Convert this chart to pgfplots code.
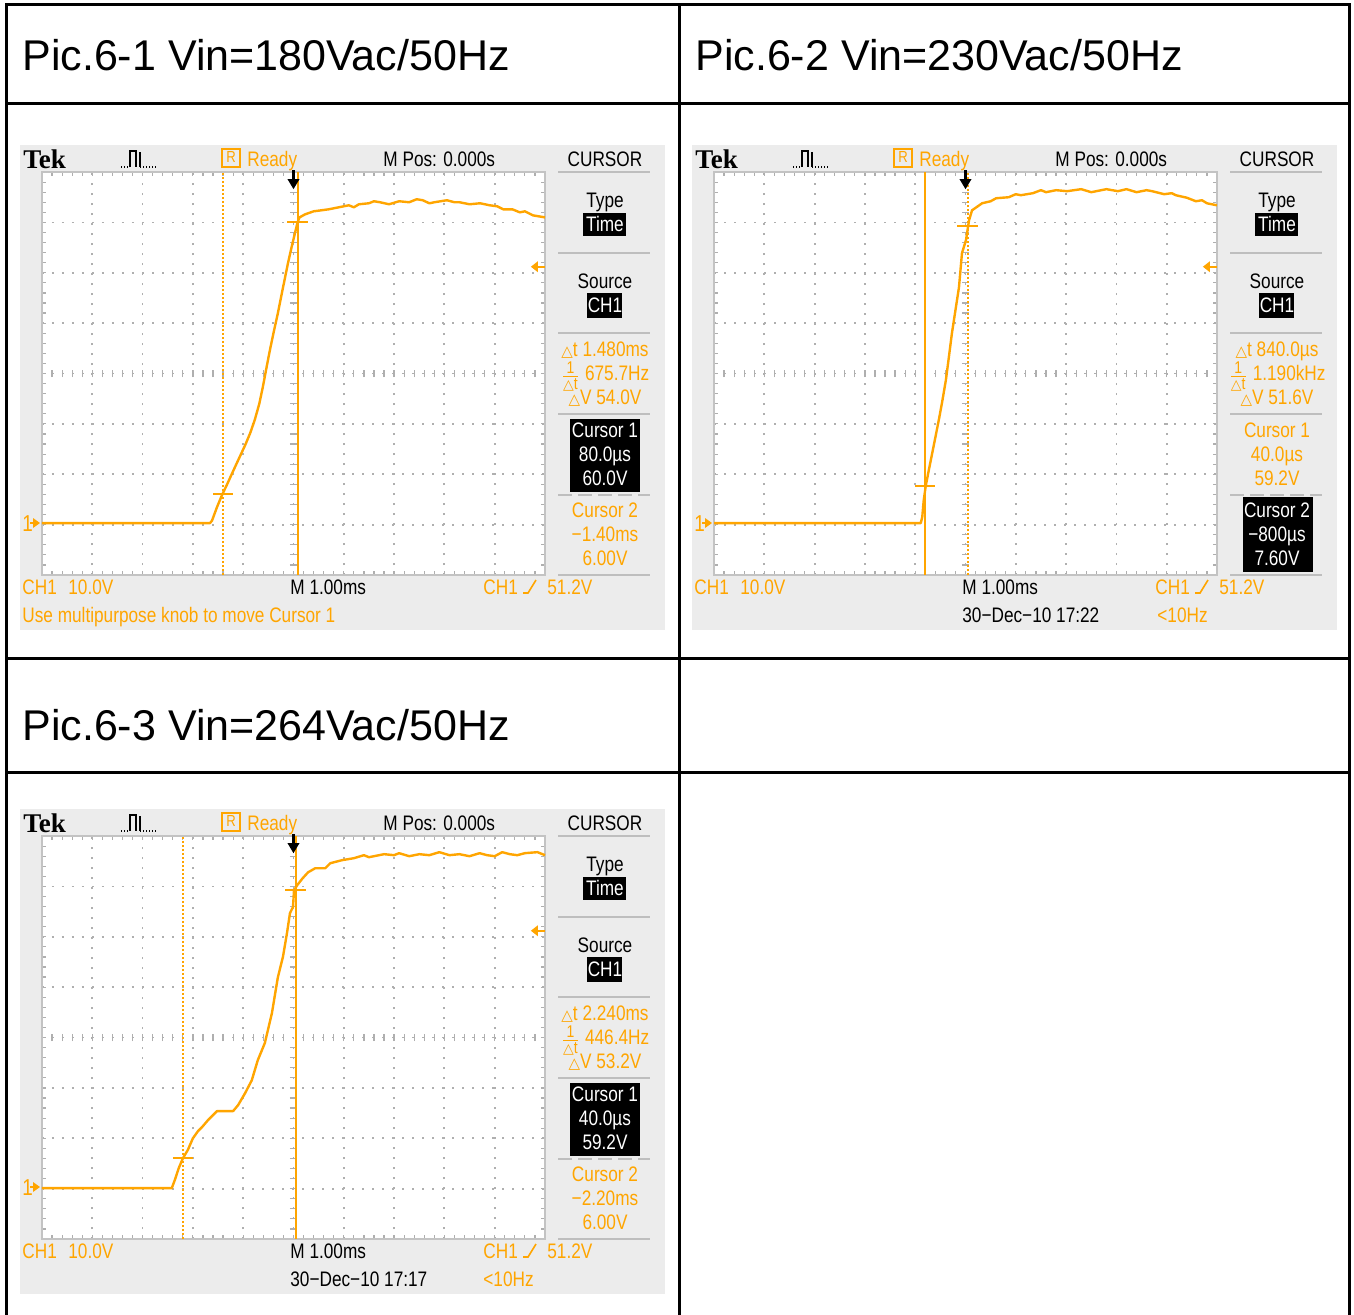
\documentclass[border=0pt]{standalone}
\usepackage{pgfplots}
\pgfplotsset{compat=1.18}
\usepackage{fontspec}
\setmainfont{Liberation Sans}
\newfontfamily\scf{Liberation Sans}[FakeStretch=0.82]
\newfontfamily\tekf{Liberation Serif}
\newfontfamily\dv{DejaVu Sans}

\definecolor{tekor}{RGB}{255,165,0}
\definecolor{tekbg}{RGB}{236,236,236}
\definecolor{gridc}{RGB}{175,175,175}
\definecolor{bordc}{RGB}{195,195,195}
\definecolor{sepc}{RGB}{190,190,190}

\newcommand\st{\scf\fontsize{10.5}{10.5}\selectfont}
\newcommand\tri{{\dv\fontsize{7.5}{7.5}\selectfont △}}
\newcommand\trs{{\dv\fontsize{7}{7}\selectfont △}}
\newcommand\invdt{\raisebox{-1pt}{$\frac{\hbox{\scf\fontsize{8.5}{8.5}\selectfont 1}}{\hbox{\trs{\scf\fontsize{8.5}{8.5}\selectfont t}}}$}}

\tikzset{tx/.style={inner sep=0, anchor=base west, font=\st},
         tc/.style={inner sep=0, anchor=base, font=\st}}

\pgfplotsset{
  teksc/.style={scale only axis, width=251.5pt, height=201.5pt, anchor=south west,
    xmin=-5,xmax=5,ymin=-10,ymax=70,
    xtick={-5,...,5}, ytick={-10,0,...,70},
    minor x tick num=4, minor y tick num=4,
    xticklabels={}, yticklabels={},
    tick align=inside, major tick length=2pt, minor tick length=2pt,
    every tick/.style={draw=gridc, line width=0.6pt},
    grid=major,
    major grid style={draw=gridc, line width=0.9pt, dash pattern=on 0.9pt off 4.1pt},
    axis line style={draw=bordc, line width=0.8pt},
    clip=false},
  tekctr/.style={scale only axis, width=251.5pt, height=201.5pt, anchor=south west,
    xmin=-5,xmax=5,ymin=-4,ymax=4, axis lines=middle, axis line style={draw=none},
    xtick={-5,...,5}, ytick={-4,...,4}, minor x tick num=4, minor y tick num=4,
    xticklabels={}, yticklabels={}, tick align=center,
    major tick length=3.5pt, minor tick length=3.5pt,
    every tick/.style={draw=gridc, line width=0.6pt}},
  trace/.style={tekor, line width=1.2pt, line join=round, no marks},
  cur/.style={tekor, line width=1pt, no marks},
  curdot/.style={tekor, line width=1pt, dash pattern=on 1pt off 1pt, no marks},
}

\newcommand\frameel{%
  \fill[tekbg] (20,145) rectangle (665,630);
  \fill[white] (42,172) rectangle (545,575);
  \node[anchor=base west, inner sep=0, font=\tekf\bfseries\fontsize{13.5}{13.5}\selectfont] at (23,168) {Tek};
  \draw[black, line width=0.6pt] (130,167) -- (130,151) -- (136,151) -- (136,167) (140,152) -- (140,167);
  \draw[black, line width=0.6pt, dash pattern=on 0.5pt off 1pt] (121,167) -- (130,167) (140,167) -- (156,167);
  \draw[tekor, line width=0.8pt] (222,149) rectangle (240,167);
  \node[tc, tekor, font=\scf\fontsize{8}{8}\selectfont] at (231,162) {R};
  \node[tx, tekor] at (247,166) {Ready};
  \node[tx] at (383,166) {M Pos: 0.000s};
  \node[tc] at (605,166) {CURSOR};
  \foreach \yy in {172,253,333,414,575} {\draw[sepc, line width=1pt] (558,\yy) -- (650,\yy);}
  \draw[sepc, line width=1pt, dash pattern=on 7pt off 3pt] (558,495) -- (650,495);
  \node[tc] at (605,207) {Type};
  \fill[black] (583,213) rectangle (626,236);
  \node[tc, white] at (605,231) {Time};
  \node[tc] at (605,288) {Source};
  \fill[black] (587,293) rectangle (622,318);
  \node[tc, white] at (605,312) {CH1};
  \node[tx, tekor, font=\scf\fontsize{11.5}{11.5}\selectfont] at (22,531) {1};
  \fill[tekor] (33,518) -- (40,523) -- (33,528) -- cycle;
  \draw[tekor, line width=0.8pt] (30,523) -- (35,523);
  \node[tx, tekor] at (22,594) {CH1};
  \node[tx, tekor] at (68,594) {10.0V};
  \node[tx] at (290,594) {M 1.00ms};
  \node[tx, tekor] at (483,594) {CH1};
  \draw[tekor, line width=0.8pt] (523,593) -- (528,593) -- (536,580);
  \node[tx, tekor] at (547,594) {51.2V};
}

\newcommand\trigmarks{%
  \fill[black] (axis cs:-0.12,68.6) -- (axis cs:0.12,68.6) -- (axis cs:0,66.6) -- cycle;
  \draw[black, line width=1.2pt] (axis cs:0,70.4) -- (axis cs:0,68.4);
  \fill[tekor] (axis cs:4.72,51.2) -- (axis cs:4.86,52.3) -- (axis cs:4.86,50.1) -- cycle;
  \draw[tekor, line width=1pt] (axis cs:4.84,51.2) -- (axis cs:5,51.2);
}

\begin{document}
\begin{tikzpicture}
\useasboundingbox (0,0) rectangle (677pt,-657pt);
\begin{scope}[x=0.5pt,y=-0.5pt]
  % table
  \draw[line width=1.5pt] (5,4) -- (1351,4);
  \draw[line width=1.5pt] (6,3) -- (6,1316);
  \draw[line width=1.5pt] (1349,3) -- (1349,1316);
  \draw[line width=1.5pt] (679,3) -- (679,1316);
  \draw[line width=1.5pt] (6,103) -- (1349,103);
  \draw[line width=1.5pt] (6,658) -- (1349,658);
  \draw[line width=1.5pt] (6,772) -- (1349,772);
  \node[anchor=base west, inner sep=0, font=\fontsize{21.5}{21.5}\selectfont] at (22,70) {Pic.6-1 Vin=180Vac/50Hz};
  \node[anchor=base west, inner sep=0, font=\fontsize{21.5}{21.5}\selectfont] at (695,70) {Pic.6-2 Vin=230Vac/50Hz};
  \node[anchor=base west, inner sep=0, font=\fontsize{21.5}{21.5}\selectfont] at (22,740) {Pic.6-3 Vin=264Vac/50Hz};
  % scope 1
  \begin{scope}
    \frameel
    \node[tc, tekor] at (605,356) {\tri t 1.480ms};
    \node[tc, tekor] at (605,380) {\invdt\ 675.7Hz};
    \node[tc, tekor] at (605,404) {\tri V 54.0V};
    \fill[black] (570,419) rectangle (640,492);
    \node[tc, white] at (605,437) {Cursor 1};
    \node[tc, white] at (605,461) {80.0µs};
    \node[tc, white] at (605,485) {60.0V};
    \node[tc, tekor] at (605,517) {Cursor 2};
    \node[tc, tekor] at (605,541) {−1.40ms};
    \node[tc, tekor] at (605,565) {6.00V};
    \node[tx, tekor] at (22,622) {Use multipurpose knob to move Cursor 1};
  \end{scope}
  % scope 2
  \begin{scope}[shift={(672,0)}]
    \frameel
    \node[tc, tekor] at (605,356) {\tri t 840.0µs};
    \node[tc, tekor] at (605,380) {\invdt\ 1.190kHz};
    \node[tc, tekor] at (605,404) {\tri V 51.6V};
    \node[tc, tekor] at (605,437) {Cursor 1};
    \node[tc, tekor] at (605,461) {40.0µs};
    \node[tc, tekor] at (605,485) {59.2V};
    \fill[black] (571,497) rectangle (641,572);
    \node[tc, white] at (605,517) {Cursor 2};
    \node[tc, white] at (605,541) {−800µs};
    \node[tc, white] at (605,565) {7.60V};
    \node[tx] at (290,622) {30−Dec−10 17:22};
    \node[tx, tekor] at (485,622) {<10Hz};
  \end{scope}
  % scope 3
  \begin{scope}[shift={(0,664)}]
    \frameel
    \node[tc, tekor] at (605,356) {\tri t 2.240ms};
    \node[tc, tekor] at (605,380) {\invdt\ 446.4Hz};
    \node[tc, tekor] at (605,404) {\tri V 53.2V};
    \fill[black] (570,419) rectangle (640,492);
    \node[tc, white] at (605,437) {Cursor 1};
    \node[tc, white] at (605,461) {40.0µs};
    \node[tc, white] at (605,485) {59.2V};
    \node[tc, tekor] at (605,517) {Cursor 2};
    \node[tc, tekor] at (605,541) {−2.20ms};
    \node[tc, tekor] at (605,565) {6.00V};
    \node[tx] at (290,622) {30−Dec−10 17:17};
    \node[tx, tekor] at (483,622) {<10Hz};
  \end{scope}
\end{scope}

% ---------- Scope 1 axes ----------
\begin{axis}[tekctr, at={(21pt,-287.5pt)}]
\end{axis}
\begin{axis}[teksc, at={(21pt,-287.5pt)}]
\addplot[cur] coordinates {(0.08,-10) (0.08,70)};
\addplot[curdot] coordinates {(-1.40,-10) (-1.40,70)};
\addplot[cur] coordinates {(-0.12,60) (0.28,60)};
\addplot[cur] coordinates {(-1.60,6) (-1.20,6)};
\addplot[trace] coordinates {
(-5.00,0.3) (-1.66,0.3) (-1.62,0.8) (-1.52,3.5) (-1.42,5.9) (-1.32,8.0) (-1.22,10.2)
(-1.10,12.8) (-0.96,15.8) (-0.86,18.2) (-0.77,20.8) (-0.68,24.0) (-0.61,27.3) (-0.54,31.0)
(-0.47,34.6) (-0.39,38.4) (-0.31,42.0) (-0.21,47.0) (-0.11,51.9) (-0.04,55.0) (0.03,57.9)
(0.08,60.0) (0.12,61.0) (0.23,61.6) (0.40,62.2) (0.55,62.4) (0.70,62.6) (0.90,63.0)
(1.10,63.4) (1.20,63.0) (1.30,63.6) (1.50,63.8) (1.60,64.2) (1.72,64.0) (1.90,63.6)
(2.10,64.2) (2.30,64.0) (2.45,64.6) (2.57,64.4) (2.70,63.8) (2.80,64.0) (3.05,64.4)
(3.20,64.0) (3.30,64.0) (3.50,63.6) (3.71,63.8) (3.90,63.4) (4.05,63.2) (4.17,62.6)
(4.35,62.6) (4.50,62.0) (4.60,62.2) (4.76,61.4) (5.00,61.0)};
\trigmarks
\end{axis}

% ---------- Scope 2 axes ----------
\begin{axis}[tekctr, at={(357pt,-287.5pt)}]
\end{axis}
\begin{axis}[teksc, at={(357pt,-287.5pt)}]
\addplot[cur] coordinates {(-0.80,-10) (-0.80,70)};
\addplot[curdot] coordinates {(0.04,-10) (0.04,70)};
\addplot[cur] coordinates {(-1.00,7.6) (-0.60,7.6)};
\addplot[cur] coordinates {(-0.16,59.2) (0.24,59.2)};
\addplot[trace] coordinates {
(-5.00,0.3) (-0.89,0.3) (-0.86,1.5) (-0.83,4.9) (-0.79,7.7) (-0.73,10.8) (-0.63,15.8)
(-0.53,20.8) (-0.46,24.6) (-0.39,28.7) (-0.33,33.3) (-0.27,38.0) (-0.19,43.2) (-0.13,47.1)
(-0.07,53.9) (0.01,56.5) (0.07,60.4) (0.13,62.4) (0.33,63.8) (0.50,64.2) (0.61,64.8)
(0.86,65.0) (1.00,65.6) (1.10,65.4) (1.34,65.8) (1.50,66.4) (1.60,66.0) (1.80,66.4)
(2.02,66.2) (2.30,66.6) (2.50,66.0) (2.80,66.6) (3.03,66.2) (3.20,66.6) (3.40,66.0)
(3.60,66.4) (3.71,66.2) (3.95,65.6) (4.10,65.8) (4.18,65.4) (4.40,64.9) (4.58,64.2)
(4.70,64.4) (4.80,63.8) (5.00,63.4)};
\trigmarks
\end{axis}

% ---------- Scope 3 axes ----------
\begin{axis}[tekctr, at={(21pt,-619.5pt)}]
\end{axis}
\begin{axis}[teksc, at={(21pt,-619.5pt)}]
\addplot[cur] coordinates {(0.04,-10) (0.04,70)};
\addplot[curdot] coordinates {(-2.20,-10) (-2.20,70)};
\addplot[cur] coordinates {(-0.16,59.2) (0.24,59.2)};
\addplot[cur] coordinates {(-2.40,6) (-2.00,6)};
\addplot[trace] coordinates {
(-5.00,0.1) (-2.42,0.1) (-2.36,1.7) (-2.28,4.1) (-2.20,6.0) (-2.10,7.7) (-2.00,10.0)
(-1.90,11.4) (-1.82,12.2) (-1.70,13.6) (-1.60,14.6) (-1.52,15.4) (-1.20,15.4) (-1.10,16.6)
(-0.96,19.0) (-0.83,21.5) (-0.71,25.5) (-0.57,28.9) (-0.43,34.8) (-0.31,42.0) (-0.21,46.0)
(-0.13,50.7) (-0.07,54.7) (-0.01,55.9) (0.01,59.2) (0.07,60.2) (0.18,61.6) (0.29,62.8)
(0.43,63.6) (0.63,63.6) (0.73,64.6) (0.96,65.2) (1.20,65.6) (1.40,66.2) (1.50,65.8)
(1.80,66.4) (2.00,66.2) (2.10,66.6) (2.30,66.0) (2.50,66.4) (2.70,66.2) (2.90,66.8)
(3.10,66.2) (3.30,66.4) (3.50,66.0) (3.70,66.6) (3.85,66.2) (4.00,66.0) (4.15,66.8)
(4.30,66.4) (4.45,66.2) (4.60,66.6) (4.85,66.8) (5.00,66.2)};
\trigmarks
\end{axis}
\end{tikzpicture}
\end{document}
